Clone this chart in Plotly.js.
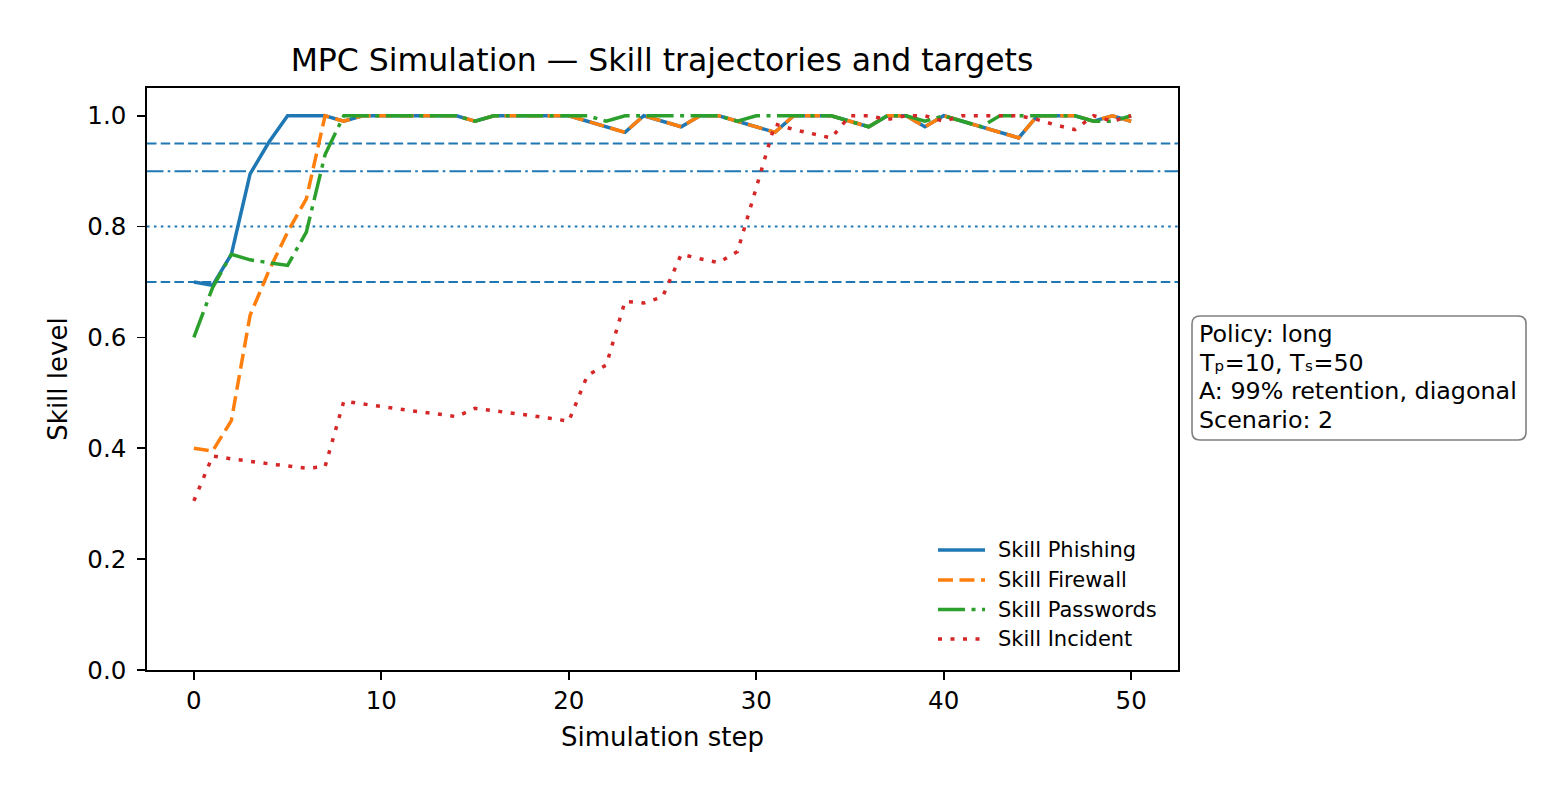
<!DOCTYPE html>
<html>
<head>
<meta charset="utf-8">
<script src="https://cdn.plot.ly/plotly-3.0.1.min.js"></script>
<style>
  html, body { margin: 0; padding: 0; background: #fff; }
  #chart { width: 1566px; height: 792px; }
</style>
</head>
<body>
<div id="chart"></div>
<script>
// Simulation steps 0..50
const steps = [0,1,2,3,4,5,6,7,8,9,10,11,12,13,14,15,16,17,18,19,20,21,22,23,24,25,26,27,28,29,30,31,32,33,34,35,36,37,38,39,40,41,42,43,44,45,46,47,48,49,50];

// Skill trajectories
const skillPhishing = [0.70,0.694,0.75,0.895,0.952,1.0,1.0,1.0,0.99,1.0,1.0,1.0,1.0,1.0,1.0,0.99,1.0,1.0,1.0,1.0,1.0,0.99,0.98,0.97,1.0,0.99,0.98,1.0,1.0,0.99,0.98,0.97,1.0,1.0,1.0,0.99,0.98,1.0,1.0,0.98,1.0,0.99,0.98,0.97,0.96,1.0,1.0,1.0,0.99,1.0,0.99];
const skillFirewall = [0.40,0.395,0.45,0.64,0.72,0.79,0.85,1.0,0.99,1.0,1.0,1.0,1.0,1.0,1.0,0.99,1.0,1.0,1.0,1.0,1.0,0.99,0.98,0.97,1.0,0.99,0.98,1.0,1.0,0.99,0.98,0.97,1.0,1.0,1.0,0.99,0.98,1.0,1.0,0.98,1.0,0.99,0.98,0.97,0.96,1.0,1.0,1.0,0.99,1.0,0.99];
const skillPasswords = [0.60,0.69,0.75,0.74,0.735,0.73,0.79,0.93,1.0,1.0,1.0,1.0,1.0,1.0,1.0,0.99,1.0,1.0,1.0,1.0,1.0,1.0,0.99,1.0,1.0,1.0,1.0,1.0,1.0,0.99,1.0,1.0,1.0,1.0,1.0,0.99,0.98,1.0,1.0,0.99,1.0,0.99,0.98,1.0,1.0,1.0,1.0,1.0,0.99,0.99,1.0];
const skillIncident = [0.305,0.386,0.381,0.376,0.372,0.368,0.364,0.367,0.485,0.480,0.475,0.470,0.466,0.462,0.457,0.472,0.468,0.463,0.459,0.454,0.449,0.532,0.550,0.665,0.662,0.673,0.750,0.742,0.735,0.755,0.870,0.985,0.975,0.967,0.960,1.0,1.0,0.993,1.0,1.0,0.99,1.0,1.0,1.0,1.0,0.993,0.983,0.975,1.0,0.99,1.0];

const seriesNames = ["Skill Phishing", "Skill Firewall", "Skill Passwords", "Skill Incident"];

// Target levels drawn as horizontal reference lines
const targetLevels = [0.95, 0.90, 0.80, 0.70];

const infoLines = ["Policy: long", "T\u209A=10, T\u209B=50", "A: 99% retention, diagonal", "Scenario: 2"];

const xTicks = [0, 10, 20, 30, 40, 50];
const yTicks = [0.0, 0.2, 0.4, 0.6, 0.8, 1.0];

// ---- styling ----
const FONT = "DejaVu Sans, Arial, sans-serif";
const colors = ["#1f77b4", "#ff7f0e", "#2ca02c", "#d62728"];
const dashes = ["solid", "15px,6.5px", "27px,6.5px,4px,6.5px", "4px,8.5px"];
const targetDashes = ["9.5px,4.2px", "16.5px,4.2px,2.6px,4.2px", "2.6px,4.3px", "9.5px,4.2px"];
const LINE_W = 3.5;

// Plot area in pixels
const W = 1566, H = 792;
const PL = 147, PR = 1178, PT = 88, PB = 670;
const pw = PR - PL, ph = PB - PT;
const px = x => (x - PL) / pw;
const py = y => (PB - y) / ph;

const allSeries = [skillPhishing, skillFirewall, skillPasswords, skillIncident];
const traces = allSeries.map((ys, i) => ({
  type: "scatter",
  mode: "lines",
  x: steps,
  y: ys,
  name: seriesNames[i],
  showlegend: false,
  line: { color: colors[i], width: LINE_W, dash: dashes[i] },
  hoverinfo: "x+y+name"
}));

const shapes = targetLevels.map((v, i) => ({
  type: "line",
  xref: "paper", yref: "y",
  x0: 0, x1: 1, y0: v, y1: v,
  layer: "below",
  line: { color: colors[0], width: 2, dash: targetDashes[i] }
}));

const annotations = [];

// Legend in the lower right corner of the axes
const legendRows = [550, 580, 609.5, 639];
seriesNames.forEach((name, i) => {
  shapes.push({
    type: "line", xref: "paper", yref: "paper",
    x0: px(938), x1: px(985), y0: py(legendRows[i]), y1: py(legendRows[i]),
    line: { color: colors[i], width: LINE_W, dash: dashes[i] }
  });
  annotations.push({
    xref: "paper", yref: "paper", x: px(996), y: py(legendRows[i]),
    xanchor: "left", yanchor: "middle", showarrow: false,
    text: name, font: { family: FONT, size: 21, color: "#000" }
  });
});

// Rounded info box to the right of the axes
(function () {
  const bx0 = px(1192), bx1 = px(1526), by0 = py(440), by1 = py(316);
  const rx = 8 / pw, ry = 8 / ph;
  const d = `M${bx0 + rx},${by1} L${bx1 - rx},${by1} Q${bx1},${by1} ${bx1},${by1 - ry} ` +
            `L${bx1},${by0 + ry} Q${bx1},${by0} ${bx1 - rx},${by0} ` +
            `L${bx0 + rx},${by0} Q${bx0},${by0} ${bx0},${by0 + ry} ` +
            `L${bx0},${by1 - ry} Q${bx0},${by1} ${bx0 + rx},${by1} Z`;
  shapes.push({
    type: "path", xref: "paper", yref: "paper", path: d,
    fillcolor: "#ffffff", line: { color: "#808080", width: 1.6 }, layer: "above"
  });
})();
const infoRows = [334, 362.5, 391, 420];
infoLines.forEach((t, i) => {
  annotations.push({
    xref: "paper", yref: "paper", x: px(1197), y: py(infoRows[i]),
    xanchor: "left", yanchor: "middle", showarrow: false,
    text: t, font: { family: FONT, size: 23.8, color: "#000" }
  });
});

const axisCommon = {
  ticks: "outside", ticklen: 8, tickwidth: 1.8, tickcolor: "#000",
  showline: true, mirror: true, linecolor: "#000", linewidth: 1.8,
  showgrid: false, zeroline: false,
  tickfont: { family: FONT, size: 24.5, color: "#000" }
};

const layout = {
  width: W, height: H,
  paper_bgcolor: "#ffffff",
  plot_bgcolor: "#ffffff",
  margin: { l: PL, r: W - PR, t: PT, b: H - PB, pad: 0 },
  font: { family: FONT, color: "#000", size: 24 },
  showlegend: false,
  title: {
    text: "MPC Simulation \u2014 Skill trajectories and targets",
    font: { family: FONT, size: 31.5, color: "#000" },
    x: px(662), xref: "paper", xanchor: "center",
    y: 1 - 60 / H, yref: "container", yanchor: "middle"
  },
  xaxis: Object.assign({}, axisCommon, {
    range: [-2.5, 52.5],
    tickmode: "array", tickvals: xTicks, ticktext: xTicks.map(String),
    ticklabelstandoff: 0,
    title: { text: "Simulation step", font: { family: FONT, size: 26, color: "#000" }, standoff: 13 }
  }),
  yaxis: Object.assign({}, axisCommon, {
    range: [0, 1.05],
    tickmode: "array", tickvals: yTicks, ticktext: yTicks.map(v => v.toFixed(1)),
    ticklabelstandoff: 6,
    title: { text: "Skill level", font: { family: FONT, size: 26, color: "#000" }, standoff: 12 }
  }),
  shapes: shapes,
  annotations: annotations
};

Plotly.newPlot("chart", traces, layout, { displayModeBar: false, staticPlot: true });
</script>
</body>
</html>
